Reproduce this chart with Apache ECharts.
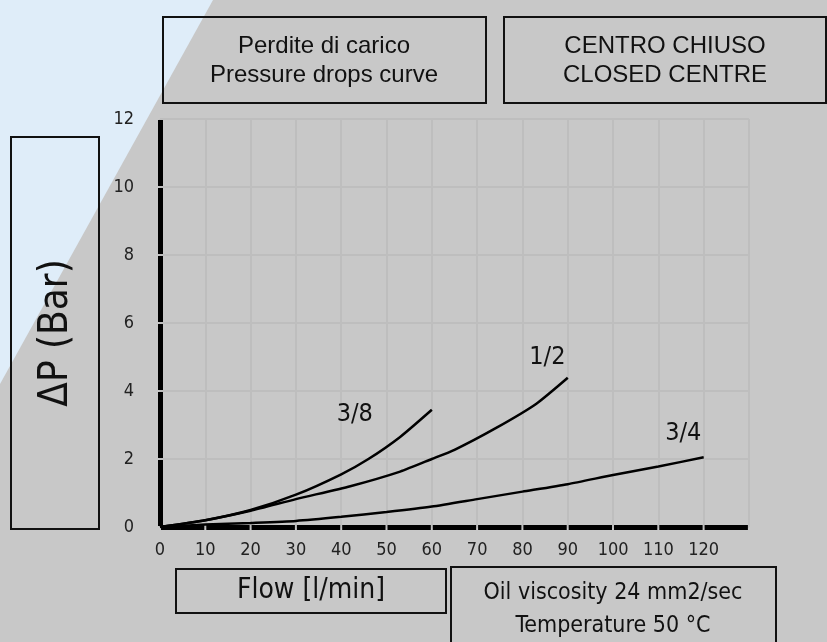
<!DOCTYPE html>
<html>
<head>
<meta charset="utf-8">
<script src="https://cdn.jsdelivr.net/npm/echarts@6/dist/echarts.min.js"></script>
<style>
html,body{margin:0;padding:0;background:#c8c8c8;}
#chart{width:827px;height:642px;}
</style>
</head>
<body>
<div id="chart"></div>
<script>
// ---- data ----
const flow38 = [0, 10, 20, 30, 40, 46, 53, 60];
const dp38   = [0, 0.2, 0.5, 0.95, 1.55, 2.0, 2.65, 3.45];
const flow12 = [0, 10, 20, 30, 42, 53, 60, 65, 74, 83, 90];
const dp12   = [0, 0.2, 0.48, 0.82, 1.2, 1.63, 2.0, 2.27, 2.9, 3.62, 4.39];
const flow34 = [0, 10, 20, 30, 40, 50, 60, 70, 80, 90, 100, 110, 120];
const dp34   = [0, 0.07, 0.12, 0.18, 0.3, 0.44, 0.6, 0.82, 1.04, 1.26, 1.53, 1.78, 2.05];
const seriesNames = ['3/8', '1/2', '3/4'];
const labelPos = [[43, 3.3], [85.5, 5.0], [115.5, 2.74]];
const xTicks = [0, 10, 20, 30, 40, 50, 60, 70, 80, 90, 100, 110, 120];
const yTicks = [0, 2, 4, 6, 8, 10, 12];

const titleLines1 = ['Perdite di carico', 'Pressure drops curve'];
const titleLines2 = ['CENTRO CHIUSO', 'CLOSED CENTRE'];
const yAxisTitle = 'ΔP (Bar)';
const xAxisTitle = 'Flow [l/min]';
const noteLines = ['Oil viscosity 24 mm2/sec', 'Temperature 50 °C'];

const zip = (xs, ys) => xs.map((x, i) => [x, ys[i]]);
const allData = [zip(flow38, dp38), zip(flow12, dp12), zip(flow34, dp34)];

const condFont = "'DejaVu Sans Condensed', 'Liberation Sans Narrow', sans-serif";
const sansFont = "'Liberation Sans', Arial, sans-serif";

const chart = echarts.init(document.getElementById('chart'));

function box(x, y, w, h) {
  return {type: 'rect', shape: {x, y, width: w, height: h}, silent: true,
    style: {fill: 'none', stroke: '#111', lineWidth: 2}, z: 5};
}
function txt(x, y, text, size, font, extra) {
  return Object.assign({type: 'text', x, y, silent: true, z: 6,
    style: {text, fill: '#111', font: size + 'px ' + font, textAlign: 'center', textVerticalAlign: 'middle'}}, extra || {});
}

const option = {
  backgroundColor: '#c8c8c8',
  animation: false,
  grid: {left: 160, right: 78, top: 119, bottom: 115, containLabel: false},
  xAxis: {
    type: 'value', min: 0, max: 130, interval: 10,
    axisLine: {show: true, onZero: false, lineStyle: {color: '#000', width: 5, cap: 'butt', type: [43.3, 2], dashOffset: 44.3}},
    axisTick: {show: false},
    splitLine: {show: true, lineStyle: {color: '#bebebe', width: 2}},
    axisLabel: {
      color: '#222', fontSize: 18, fontFamily: condFont, margin: 14,
      formatter: v => (xTicks.indexOf(v) >= 0 ? String(v) : '')
    }
  },
  yAxis: {
    type: 'value', min: 0, max: 12, interval: 2,
    axisLine: {show: true, onZero: false, lineStyle: {color: '#000', width: 5, cap: 'butt', type: [66, 2], dashOffset: 67}},
    axisTick: {show: false},
    splitLine: {show: true, lineStyle: {color: '#bebebe', width: 2}},
    axisLabel: {
      color: '#222', fontSize: 18, fontFamily: condFont, margin: 26,
      formatter: v => (yTicks.indexOf(v) >= 0 ? String(v) : '')
    }
  },
  series: allData.map((d, i) => ({
    type: 'line', name: seriesNames[i], data: d, smooth: 0.2,
    showSymbol: false, symbol: 'none',
    lineStyle: {color: '#000', width: 2.5},
    markPoint: {
      symbol: 'circle', symbolSize: 0, silent: true,
      label: {show: true, formatter: seriesNames[i], color: '#111', fontSize: 25, fontFamily: condFont, position: 'inside'},
      data: [{coord: labelPos[i]}]
    },
    z: 3
  })),
  graphic: [
    {type: 'polygon', shape: {points: [[0, 0], [213, 0], [0, 384]]}, style: {fill: '#dfedf9'}, silent: true, z: -10},
    box(163, 17, 323, 86),
    txt(324, 46, titleLines1[0], 24, sansFont),
    txt(324, 75, titleLines1[1], 24, sansFont),
    box(504, 17, 322, 86),
    txt(665, 46, titleLines2[0], 24, sansFont),
    txt(665, 75, titleLines2[1], 24, sansFont),
    box(11, 137, 88, 392),
    txt(57, 333, yAxisTitle, 40, condFont, {rotation: Math.PI / 2}),
    box(176, 569, 270, 44),
    txt(311, 591, xAxisTitle, 28, condFont),
    box(451, 567, 325, 90),
    txt(613, 593, noteLines[0], 23, condFont),
    txt(613, 626, noteLines[1], 23, condFont)
  ]
};
chart.setOption(option);
</script>
</body>
</html>
